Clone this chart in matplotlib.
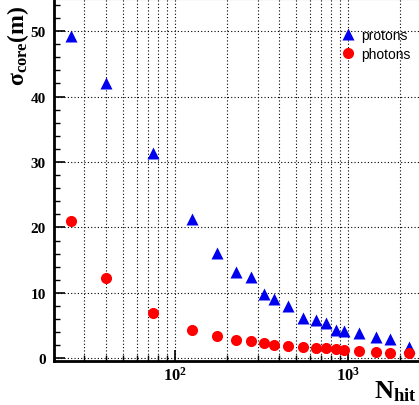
import matplotlib as mpl
mpl.use('Agg')
import matplotlib.pyplot as plt
from matplotlib.ticker import FixedLocator, MultipleLocator, NullFormatter

#values
n_hit = [25, 40, 75, 125, 175, 225, 275, 325, 375, 450, 550, 650, 750, 850, 950, 1150, 1450, 1750, 2250]
protons = [49.2, 42.1, 31.4, 21.3, 16.1, 13.2, 12.4, 9.9, 9.1, 7.95, 6.1, 5.9, 5.4, 4.4, 4.2, 3.9, 3.3, 3.0, 1.7]
photons = [21.0, 12.3, 7.0, 4.35, 3.45, 2.8, 2.6, 2.3, 2.05, 1.9, 1.7, 1.55, 1.55, 1.45, 1.3, 1.1, 0.95, 0.8, 0.75]
x_ticks = [100, 1000]
x_tick_labels = ['$\\mathbf{10^{2}}$', '$\\mathbf{10^{3}}$']

plt.rcParams['mathtext.fontset'] = 'custom'
plt.rcParams['mathtext.rm'] = 'Liberation Serif'
plt.rcParams['mathtext.bf'] = 'Liberation Serif:bold'
plt.rcParams['mathtext.it'] = 'Liberation Serif:italic'

fig = plt.figure(figsize=(4.19, 4.06), dpi=100)
ax = fig.add_axes([54/419, 44/406, 365/419, 362/406])

ax.plot(n_hit, protons, '^', color='#0000ee', ms=8, mec='none', label='protons', zorder=3)
ax.plot(n_hit, photons, 'o', color='#ff0000', ms=8, mec='none', label='photons', zorder=3)

ax.set_xscale('log')
ax.set_xlim(20, 2570)
ax.set_ylim(-0.4, 54.9)

#grid at every minor x position and every 10 in y
minor_x = [m*10**e for e in (1, 2, 3) for m in range(1, 10) if 20 <= m*10**e <= 2500]
ax.xaxis.set_major_locator(FixedLocator(x_ticks))
ax.xaxis.set_minor_locator(FixedLocator([v for v in minor_x if v not in x_ticks]))
ax.xaxis.set_minor_formatter(NullFormatter())
ax.set_xticklabels(x_tick_labels)
ax.yaxis.set_major_locator(MultipleLocator(10))
ax.yaxis.set_minor_locator(MultipleLocator(2))
for v in minor_x:
    ax.axvline(v, color='black', lw=0.8, ls=(0, (1, 2)), zorder=1)
for v in range(0, 60, 10):
    ax.axhline(v, color='black', lw=0.8, ls=(0, (1, 2)), zorder=1)

ax.tick_params(which='both', direction='in', top=False, right=False)
ax.tick_params(which='major', length=8, width=1.2)
ax.tick_params(which='minor', length=4, width=1)
ax.tick_params(axis='y', pad=6)
for lab in ax.get_yticklabels():
    lab.set_fontfamily('Liberation Serif')
    lab.set_fontweight('bold')
    lab.set_fontsize(11)
for lab in ax.get_xticklabels():
    lab.set_fontsize(12)

ax.spines['left'].set_linewidth(2)
ax.spines['bottom'].set_linewidth(2)
ax.spines['top'].set_color('#888888')
ax.spines['right'].set_visible(False)

fig.text(0.042, 0.985, '$\\mathbf{\\sigma_{core}(m)}$', rotation=90, fontsize=17,
         ha='center', va='top')
fig.text(0.995, 0.005, '$\\mathbf{N_{hit}}$', fontsize=19, ha='right', va='bottom')

ax.legend(loc='upper right', bbox_to_anchor=(1.01, 0.955), frameon=False,
          prop={'family': 'Liberation Sans', 'size': 10}, handletextpad=0.4,
          labelspacing=0.35, handlelength=1.0)

plt.savefig('out.png', dpi=100)
